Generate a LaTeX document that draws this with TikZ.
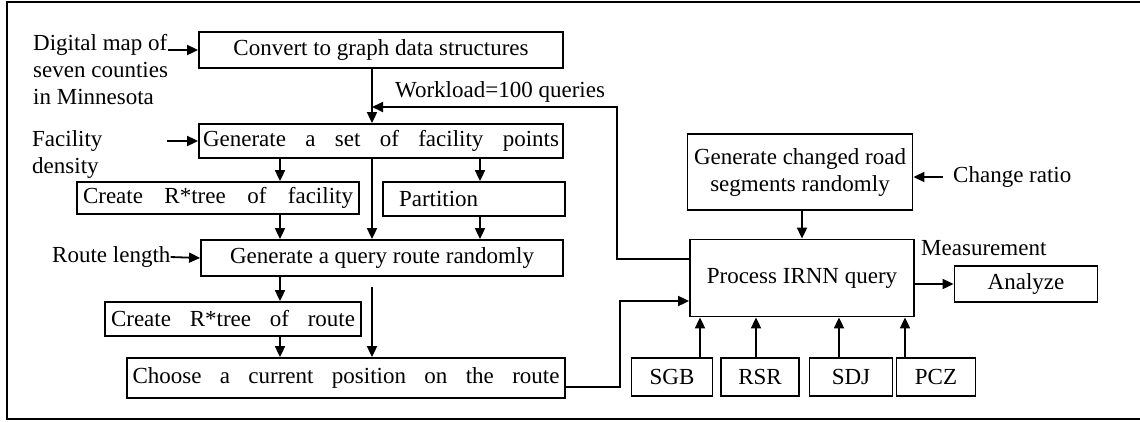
\documentclass[tikz,border=0pt]{standalone}
\usepackage{fontspec}
\setmainfont{Liberation Serif}
\usetikzlibrary{arrows.meta, positioning, calc}

\begin{document}
\begin{tikzpicture}[
  x=1pt, y=-1pt,
  font=\fontsize{23}{27}\selectfont,
  box/.style={draw, line width=1.8pt, inner sep=0pt, align=center},
  arr/.style={line width=1.8pt, -{Triangle[length=11pt, width=10pt]}},
  lbl/.style={inner sep=0pt, anchor=west, align=left}
]

\useasboundingbox (0,0) rectangle (1140,421);

%% ---- Outer frame (right side runs off the page) ----
\draw[line width=2pt] (1150,2) -- (7,2) -- (7,419) -- (1150,419);

%% ---- Left column ----
\node[box, minimum width=364pt, minimum height=36pt] (conv) at (381,50)
  {Convert to graph data structures};
\node[box, minimum width=364pt, minimum height=34pt] (fac) at (381,141)
  {\makebox[356pt][s]{Generate a set of facility points}};
\node[box, minimum width=282pt, minimum height=32pt] (rfac) at (218,198)
  {\makebox[270pt][s]{Create R*tree of facility}};
\node[box, minimum width=182pt, minimum height=34pt] (part) at (474,199)
  {\makebox[150pt][l]{Partition}};
\node[box, minimum width=362pt, minimum height=36pt] (query) at (382,258)
  {Generate a query route randomly};
\node[box, minimum width=256pt, minimum height=34pt] (rroute) at (233,319)
  {\makebox[244pt][s]{Create R*tree of route}};
\node[box, minimum width=438pt, minimum height=40pt] (choose) at (346,378)
  {\makebox[427pt][s]{Choose a current position on the route}};

%% ---- Right column ----
\node[box, minimum width=225pt, minimum height=76pt] (chg) at (800,172)
  {Generate changed road\\segments randomly};
\node[box, minimum width=224pt, minimum height=77pt] (proc) at (802,278)
  {Process IRNN query};
\node[box, minimum width=143pt, minimum height=36pt] (ana) at (1026,284)
  {Analyze};
\node[box, minimum width=81pt, minimum height=38pt] (sgb) at (672,377) {SGB};
\node[box, minimum width=78pt, minimum height=38pt] (rsr) at (760,377) {RSR};
\node[box, minimum width=83pt, minimum height=38pt] (sdj) at (851,377) {SDJ};
\node[box, minimum width=79pt, minimum height=38pt] (pcz) at (936,377) {PCZ};

%% ---- Input labels ----
\node[lbl] (map) at (33,70) {Digital map of\\seven counties\\in Minnesota};
\node[lbl] (dens) at (32,154) {Facility\\density};
\node[lbl] (rlen) at (52,257) {Route length};
\node[lbl] (wload) at (395,92) {Workload=100 queries};
\node[lbl] (cratio) at (953,177) {Change ratio};
\node[lbl] (meas) at (921,248) {Measurement};

%% ---- Vertical lanes ----
\coordinate (lnL) at (280,0);
\coordinate (lnM) at (372,0);
\coordinate (lnR) at (480,0);
\coordinate (wl) at (372,107);

%% ---- Connectors ----
\draw[arr] (conv.west -| map.east) -- (conv.west);
\draw[arr] ([xshift=-31pt]fac.west) -- (fac.west);
\draw[arr] (rlen.east) -- (query.west);
\draw[arr] (conv.south -| lnM) -- (fac.north -| lnM);
\draw[arr] ([yshift=19pt]proc.west) -- ++(-72,0) |- (wl);

\draw[arr] (fac.south -| lnL) -- (rfac.north -| lnL);
\draw[arr] (fac.south -| lnM) -- (query.north -| lnM);
\draw[arr] (fac.south -| lnR) -- (part.north -| lnR);
\draw[arr] (part.south -| lnR) -- (query.north -| lnR);
\draw[arr] (rfac.south -| lnL) -- (query.north -| lnL);
\draw[arr] (query.south -| lnL) -- (rroute.north -| lnL);
\draw[arr] (rroute.south -| lnL) -- (choose.north -| lnL);
\draw[arr] ([yshift=-10pt]query.south -| lnM) -- (choose.north -| lnM);

\draw[arr] ([yshift=-9pt]choose.east) -- ++(54,0) |- ([yshift=-23pt]proc.west);
\draw[arr] (chg.south -| proc.north) -- (proc.north);
\draw[arr] ([xshift=-10pt]cratio.west) -- (chg.east |- cratio.west);
\draw[arr] (ana.west -| proc.east) -- (ana.west);

\foreach \n/\x in {sgb/700, rsr/756, sdj/839, pcz/905}{
  \draw[arr] (\n.north -| \x,0) -- (proc.south -| \x,0);
}

\end{tikzpicture}
\end{document}
